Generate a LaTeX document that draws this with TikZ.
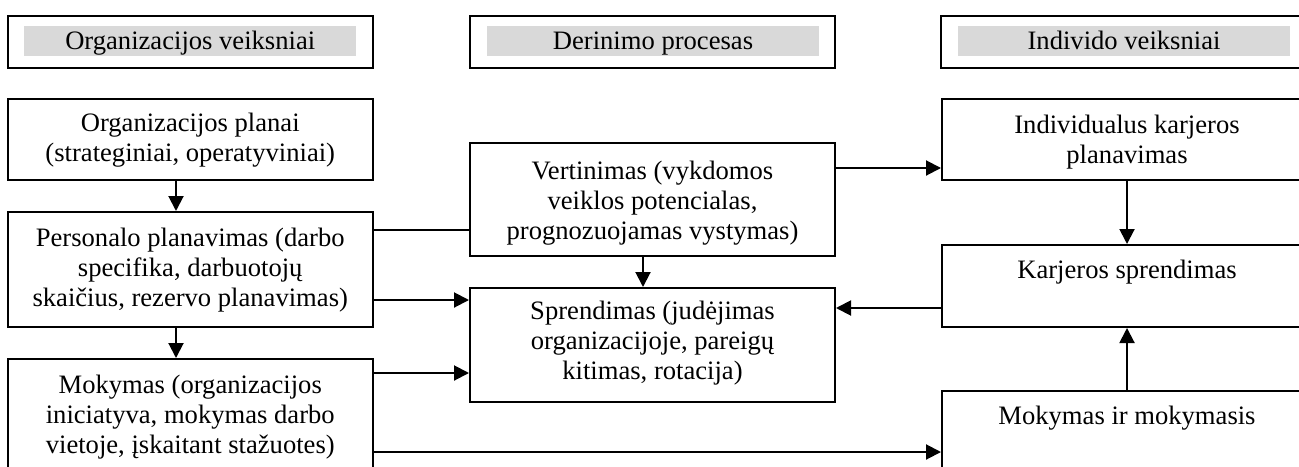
\documentclass[tikz,border=0pt]{standalone}
\usepackage{fontspec}
\setmainfont{Liberation Serif}
\usetikzlibrary{arrows.meta}
\definecolor{hdrgray}{RGB}{217,217,217}
% box text: width, height, baseline of first line below the top, lines
\newcommand\boxtxt[4]{\parbox[c][#2][t]{#1}{\centering\rule{0pt}{#3}#4}}
\begin{document}
\begin{tikzpicture}[x=0.5pt,y=-0.5pt,
  txt/.style={font=\fontsize{13.3}{15}\selectfont},
  box/.style={txt,draw,line width=1pt,inner sep=0pt,fill=white},
  hdrbox/.style={draw,line width=1pt,inner sep=0pt,minimum height=26pt},
  hdrfill/.style={txt,fill=hdrgray,inner sep=0pt,minimum width=166pt,text height=11.5pt,text depth=3.5pt},
  arr/.style={line width=1pt,-{Triangle[length=7.5pt,width=7.5pt]}},
  link/.style={line width=1pt}]
\useasboundingbox (0,0) rectangle (1299,466);
\clip (0,0) rectangle (1299,466);

% column headers
\node[hdrbox,minimum width=182.75pt] (hL) at (190.25,42) {};
\node[hdrfill] (hLt) at (190.25,41) {Organizacijos veiksniai};
\node[hdrbox,minimum width=182.5pt] (hM) at (652.5,42) {};
\node[hdrfill] (hMt) at (653,41) {Derinimo procesas};
\node[hdrbox,minimum width=185.5pt] (hR) at (1126.5,42) {};
\node[hdrfill] (hRt) at (1124,41) {Individo veiksniai};

% organisation column
\node[box] (orgPlan) at (190.25,139.5)
  {\boxtxt{182.75pt}{40.5pt}{16pt}{Organizacijos planai\\(strateginiai, operatyviniai)}};
\node[box] (pers) at (190.25,269.5)
  {\boxtxt{182.75pt}{57.5pt}{17pt}{Personalo planavimas (darbo\\specifika, darbuotojų\\skaičius, rezervo planavimas)}};
\node[box] (mokL) at (190.25,432)
  {\boxtxt{182.75pt}{73pt}{17pt}{Mokymas (organizacijos\\iniciatyva, mokymas darbo\\vietoje, įskaitant stažuotes)}};

% coordination column
\node[box] (vert) at (652.5,199.5)
  {\boxtxt{182.5pt}{56.5pt}{18pt}{Vertinimas (vykdomos\\veiklos potencialas,\\prognozuojamas vystymas)}};
\node[box] (sprend) at (652.5,345)
  {\boxtxt{182.5pt}{57pt}{15.5pt}{Sprendimas (judėjimas\\organizacijoje, pareigų\\kitimas, rotacija)}};

% individual column
\node[box] (indiv) at (1127,139.5)
  {\boxtxt{185pt}{40.5pt}{17pt}{Individualus karjeros\\planavimas}};
\node[box] (karj) at (1127,286)
  {\boxtxt{185pt}{41pt}{16.5pt}{Karjeros sprendimas}};
\node[box] (mokR) at (1127,433)
  {\boxtxt{185pt}{42pt}{16.5pt}{Mokymas ir mokymasis}};

% connector levels
\coordinate (yA) at (0,230);
\coordinate (yB) at (0,300);
\coordinate (yC) at (0,373);
\coordinate (yD) at (0,452);
\coordinate (yE) at (0,168);
\coordinate (yF) at (0,308);
\coordinate (xL) at (176,0);
\coordinate (xM) at (643,0);

% connectors
\draw[arr] (orgPlan.south -| xL) -- (pers.north -| xL);
\draw[arr] (pers.south -| xL) -- (mokL.north -| xL);
\draw[link] (pers.east |- yA) -- (vert.west |- yA);
\draw[arr] (pers.east |- yB) -- (sprend.west |- yB);
\draw[arr] (mokL.east |- yC) -- (sprend.west |- yC);
\draw[arr] (mokL.east |- yD) -- (mokR.west |- yD);
\draw[arr] (vert.east |- yE) -- (indiv.west |- yE);
\draw[arr] (vert.south -| xM) -- (sprend.north -| xM);
\draw[arr] (indiv) -- (karj);
\draw[arr] (mokR) -- (karj);
\draw[arr] (karj.west |- yF) -- (sprend.east |- yF);
\end{tikzpicture}
\end{document}
